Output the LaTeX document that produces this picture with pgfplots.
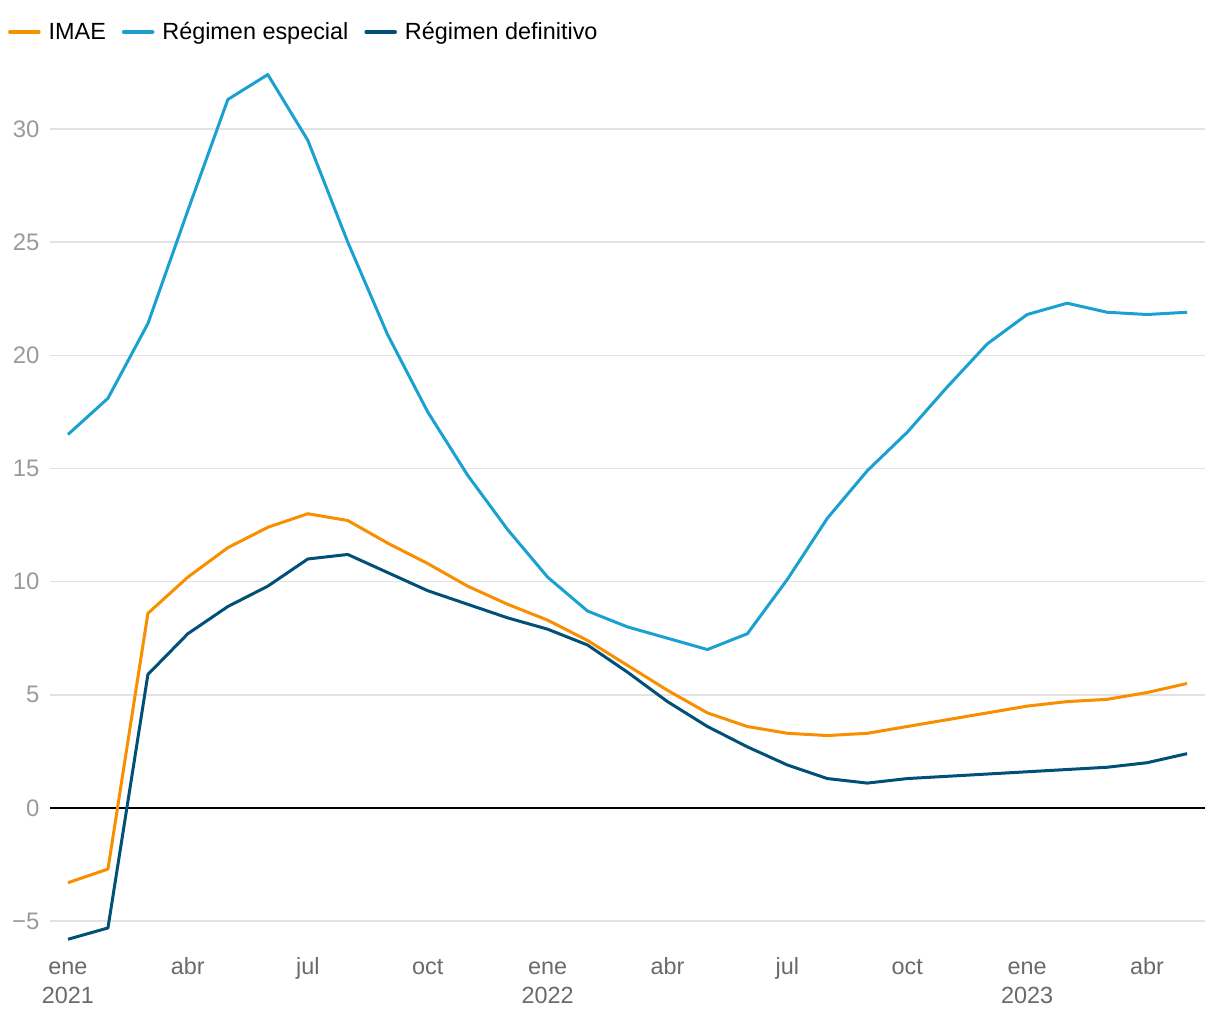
\documentclass[border=0pt]{standalone}
\usepackage{pgfplots}
\pgfplotsset{compat=1.18}
\usepackage{fontspec}
\setmainfont{Liberation Sans}
\definecolor{cimae}{HTML}{F78F00}
\definecolor{cesp}{HTML}{1BA1D1}
\definecolor{cdef}{HTML}{015078}
\definecolor{gridc}{HTML}{E2E2E2}
\definecolor{ytc}{HTML}{9A9A9A}
\definecolor{xtc}{HTML}{6A6A6A}
\begin{document}
\begin{tikzpicture}
\begin{axis}[name=a,
  scale only axis, width=1155bp, height=889.6bp,
  xmin=-0.45, xmax=28.45, ymin=-6.3, ymax=33,
  axis line style={draw=none}, tick style={draw=none},
  clip=false,
  ytick={-5,0,5,10,15,20,25,30},
  yticklabels={−5,0,5,10,15,20,25,30},
  ymajorgrids, grid style={gridc, line width=1.5bp},
  xtick={0,3,6,9,12,15,18,21,24,27},
  xticklabels={\strut ene\\2021,\strut abr,\strut jul,\strut oct,\strut ene\\2022,\strut abr,\strut jul,\strut oct,\strut ene\\2023,\strut abr},
  xticklabel style={align=center, anchor=north, text=xtc, font=\fontsize{23.5}{29}\selectfont, yshift=0bp},
  yticklabel style={text=ytc, font=\fontsize{24}{28}\selectfont, xshift=-7bp},
  legend columns=-1,
  legend style={at={(-0.039,1.0326)}, anchor=west, draw=none, fill=none,
    font=\fontsize{23.5}{27}\selectfont, column sep=6bp,
    /tikz/every even column/.append style={column sep=14bp}},
  legend image code/.code={\draw[#1, line width=3.5bp, line cap=round] (0bp,0bp) -- (29bp,0bp);},
  every axis plot/.append style={line width=3bp, line join=round, mark=none},
]
\draw[black, line width=1.2bp] (axis cs:-0.45,0) -- (axis cs:28.45,0);
\addplot[cimae] coordinates {
(0,-3.3) (1,-2.7) (2,8.6) (3,10.2) (4,11.5) (5,12.4) (6,13.0) (7,12.7) (8,11.7) (9,10.8)
(10,9.8) (11,9.0) (12,8.3) (13,7.4) (14,6.3) (15,5.2) (16,4.2) (17,3.6) (18,3.3) (19,3.2)
(20,3.3) (21,3.6) (22,3.9) (23,4.2) (24,4.5) (25,4.7) (26,4.8) (27,5.1) (28,5.5)};
\addlegendentry{IMAE}
\addplot[cesp] coordinates {
(0,16.5) (1,18.1) (2,21.4) (3,26.4) (4,31.3) (5,32.4) (6,29.5) (7,25.0) (8,20.9) (9,17.5)
(10,14.7) (11,12.3) (12,10.2) (13,8.7) (14,8.0) (15,7.5) (16,7.0) (17,7.7) (18,10.1) (19,12.8)
(20,14.9) (21,16.6) (22,18.6) (23,20.5) (24,21.8) (25,22.3) (26,21.9) (27,21.8) (28,21.9)};
\addlegendentry{Régimen especial}
\addplot[cdef] coordinates {
(0,-5.8) (1,-5.3) (2,5.9) (3,7.7) (4,8.9) (5,9.8) (6,11.0) (7,11.2) (8,10.4) (9,9.6)
(10,9.0) (11,8.4) (12,7.9) (13,7.2) (14,6.0) (15,4.7) (16,3.6) (17,2.7) (18,1.9) (19,1.3)
(20,1.1) (21,1.3) (22,1.4) (23,1.5) (24,1.6) (25,1.7) (26,1.8) (27,2.0) (28,2.4)};
\addlegendentry{Régimen definitivo}
\end{axis}
\path (a.south west) ++(-50bp,-69.4bp) rectangle ([shift={(15bp,61bp)}]a.north east);
\end{tikzpicture}
\end{document}
